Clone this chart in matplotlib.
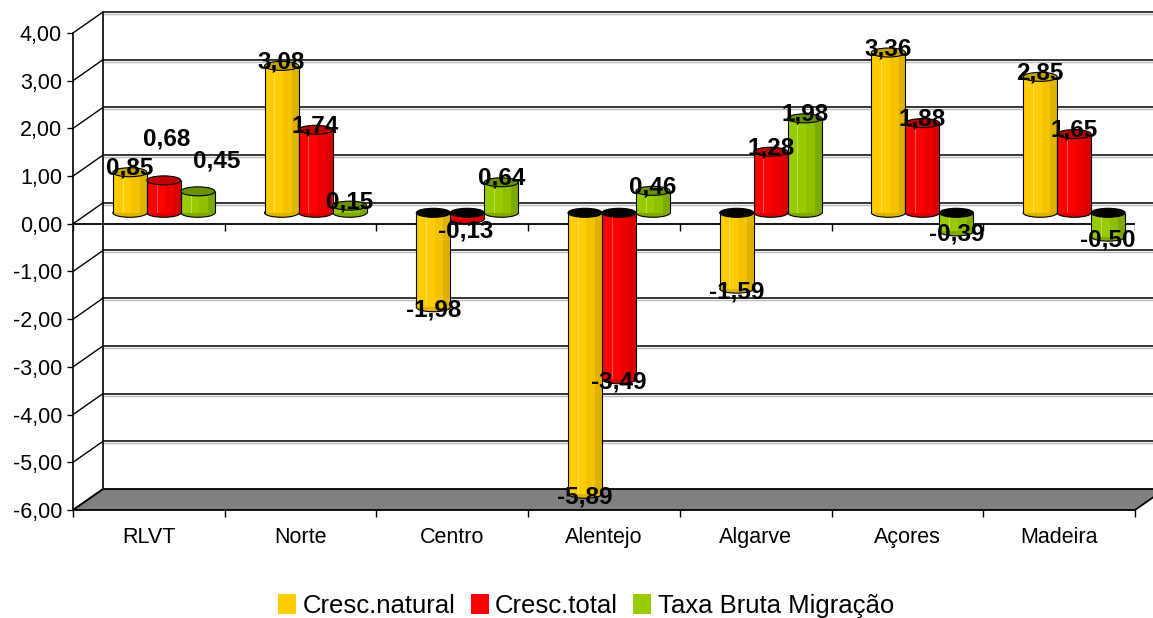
import numpy as np
import matplotlib
matplotlib.use("Agg")
import matplotlib.pyplot as plt
import matplotlib.transforms as mtransforms
from matplotlib.patches import Ellipse, Polygon, Patch

regions = ["RLVT", "Norte", "Centro", "Alentejo", "Algarve", "Açores", "Madeira"]
cresc_natural = [0.85, 3.08, -1.98, -5.89, -1.59, 3.36, 2.85]
cresc_total = [0.68, 1.74, -0.13, -3.49, 1.28, 1.88, 1.65]
taxa_migracao = [0.45, 0.15, 0.64, 0.46, 1.98, -0.39, -0.50]
series_names = ["Cresc.natural", "Cresc.total", "Taxa Bruta Migração"]
y_ticks = [-6, -5, -4, -3, -2, -1, 0, 1, 2, 3, 4]

# body, stripe, dark stripe, top cap
colours = [
    ("#FFCC00", "#F3C300", "#DEB200", "#C9A300"),
    ("#FF0000", "#EF0000", "#D80000", "#BE0000"),
    ("#99CC00", "#8EC000", "#7DA900", "#6A9200"),
]

# labels that Excel moved by hand (series, category): pixel offset
label_nudge = {(1, 0): (3, 41), (2, 0): (19, 30), (1, 2): (-2, -12)}

plt.rcParams["font.family"] = ["Liberation Sans", "DejaVu Sans"]

W, H = 1153, 618
fig = plt.figure(figsize=(W / 100, H / 100), dpi=100)
ax = fig.add_axes([73 / W, 108 / H, 1062 / W, 477 / H])
ax.set_xlim(-0.5, 6.5)
ax.set_ylim(-6, 4)

px_x = 1062 / 7
px_y = 477 / 10
DX = 30 / px_x   # depth of the box
DY = 21 / px_y

# floor
floor = Polygon([(-0.5, -6), (6.5, -6), (6.5 + DX, -6 + DY), (-0.5 + DX, -6 + DY)],
                closed=True, facecolor="#808080", edgecolor="black", lw=1.3,
                clip_on=False, zorder=1)
ax.add_patch(floor)

# back wall + side wall lines
for v in y_ticks[1:]:
    ax.plot([-0.5 + DX, 6.5 + DX + 0.2], [v + DY - 2 / px_y] * 2, color="#BBBBBB", lw=1,
            clip_on=False, zorder=0.9)
    ax.plot([-0.5 + DX, 6.5 + DX + 0.2], [v + DY] * 2, color="black", lw=1.1,
            clip_on=False, zorder=1)
for v in y_ticks:
    ax.plot([-0.5, -0.5 + DX], [v, v + DY], color="black", lw=1, clip_on=False, zorder=1)
ax.plot([-0.5 + DX] * 2, [-6 + DY, 4 + DY], color="black", lw=1.2, clip_on=False, zorder=1)

# zero line with its ticks
ax.plot([-0.5, 6.5], [0, 0], color="black", lw=1.3, zorder=2)
ax.vlines(np.arange(-0.5, 7), -7 / px_y, 0, color="black", lw=1, zorder=2)

# bars as cylinders
mid = ax.transData + mtransforms.ScaledTranslation(15 / 100, 11 / 100, fig.dpi_scale_trans)
BW = 34 / px_x
EH = 9 / px_y
x = np.arange(len(regions))
for j, vals in enumerate([cresc_natural, cresc_total, taxa_migracao]):
    body, stripe, dark, cap = colours[j]
    xs = x + (j - 1) * BW
    vals = np.array(vals)
    ax.bar(xs, vals, BW, color=body, lw=0, transform=mid, zorder=4)
    ax.bar(xs + BW * 0.18, vals, BW * 0.28, color=stripe, lw=0, transform=mid, zorder=4.1)
    ax.bar(xs + BW * 0.4, vals, BW * 0.2, color=dark, lw=0, transform=mid, zorder=4.2)
    ax.bar(xs - BW * 0.2, vals, BW * 0.03, color="white", alpha=0.35, lw=0,
           transform=mid, zorder=4.2)
    ax.vlines(xs - BW / 2, 0, vals, color="black", lw=0.8, transform=mid, zorder=4.3)
    ax.vlines(xs + BW / 2, 0, vals, color="black", lw=0.8, transform=mid, zorder=4.3)
    for i, (xi, v) in enumerate(zip(xs, vals)):
        base = Ellipse((xi, min(v, 0)), BW, EH, facecolor=dark, edgecolor="black",
                       lw=0.8, transform=mid, zorder=3.5)
        ax.add_patch(base)
        if v > 0:
            top = Ellipse((xi, v), BW, EH, facecolor=cap, edgecolor="black", lw=0.8,
                          transform=mid, zorder=5)
        else:
            top = Ellipse((xi, 0), BW, EH, facecolor="black", edgecolor="black", lw=0.8,
                          transform=mid, zorder=5)
        ax.add_patch(top)

        dx, dy = label_nudge.get((j, i), (0, 4) if v > 0 else (0, -3))
        tr = mid + mtransforms.ScaledTranslation(dx / 100, dy / 100, fig.dpi_scale_trans)
        ax.text(xi, v, f"{v:.2f}".replace(".", ","), transform=tr, ha="center",
                va="center", fontsize=17.5, fontweight="bold", zorder=6)

# axes styling
for s in ["top", "right"]:
    ax.spines[s].set_visible(False)
ax.spines["left"].set_linewidth(1.2)
ax.spines["bottom"].set_visible(False)
ax.set_yticks(y_ticks)
ax.set_yticklabels([f"{v:.2f}".replace(".", ",") for v in y_ticks], fontsize=15.5)
ax.tick_params(axis="y", length=4, width=1, pad=4)
ax.set_xticks(x)
ax.set_xticklabels(regions, fontsize=15.5)
ax.set_xticks(np.arange(-0.5, 7), minor=True)
ax.tick_params(axis="x", which="major", length=0, pad=12)
ax.tick_params(axis="x", which="minor", length=5, width=1)

handles = [Patch(facecolor=c[0], edgecolor="none") for c in colours]
fig.legend(handles, series_names, loc="center", bbox_to_anchor=(586 / W, 1 - 606 / H),
           ncol=3, frameon=False, fontsize=18.5, handlelength=0.7, handleheight=0.8,
           handletextpad=0.25, columnspacing=0.6, borderaxespad=0)

fig.savefig("out.png", dpi=100)
